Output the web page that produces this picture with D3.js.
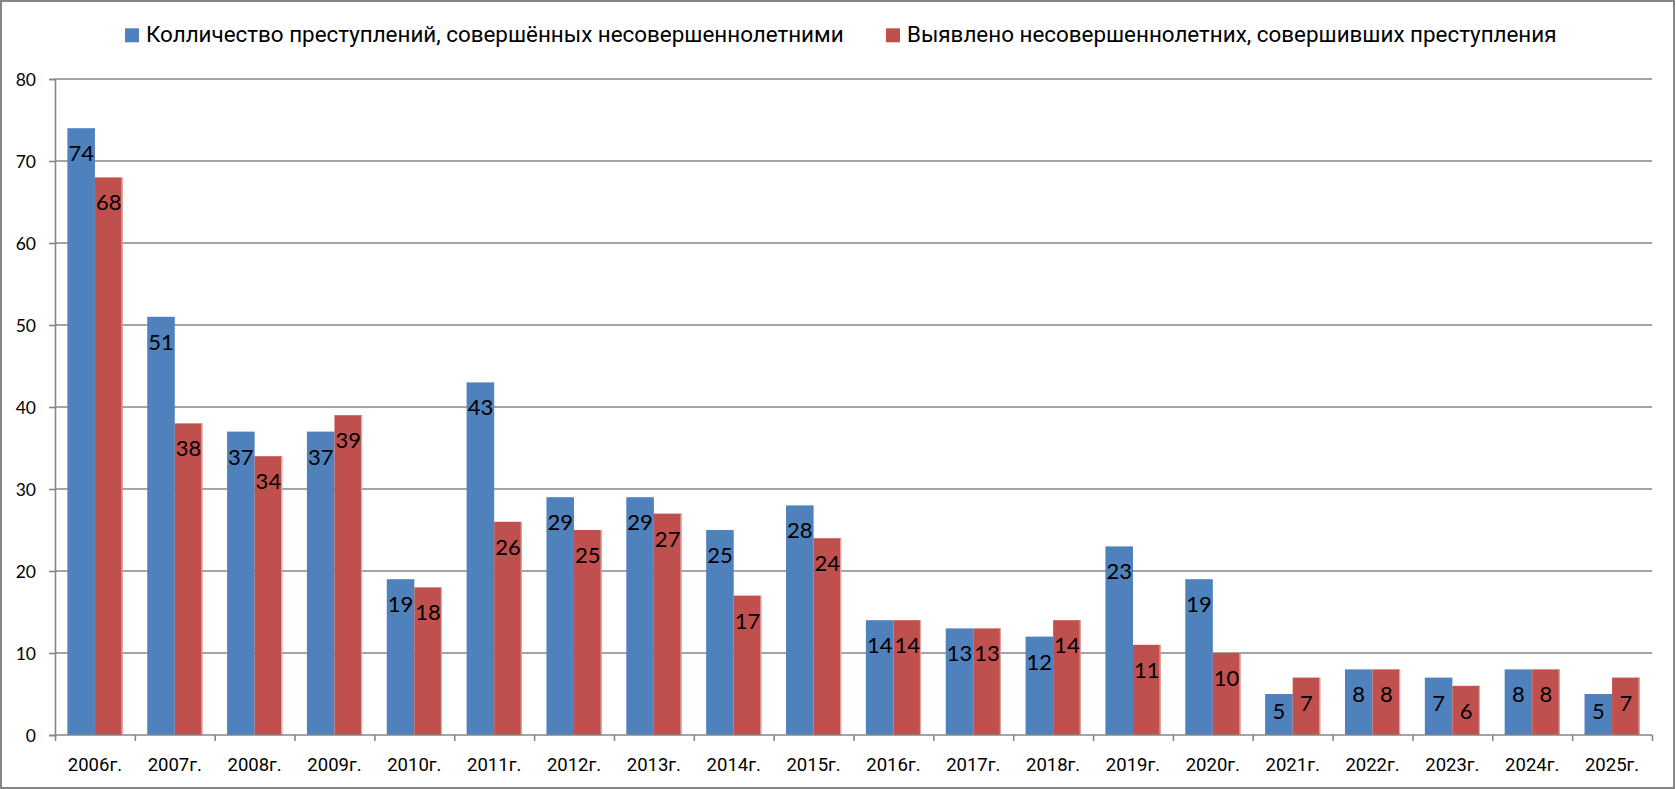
<!DOCTYPE html>
<html><head><meta charset="utf-8">
<script src="https://cdn.jsdelivr.net/npm/d3@7"></script>
<style>
html,body{margin:0;padding:0;background:#fff;}
svg{display:block;}
</style></head>
<body>
<svg id="chart" width="1676" height="789"></svg>
<script>
const categories = ['2006г.','2007г.','2008г.','2009г.','2010г.','2011г.','2012г.','2013г.','2014г.','2015г.','2016г.','2017г.','2018г.','2019г.','2020г.','2021г.','2022г.','2023г.','2024г.','2025г.'];
const crimes     = [74, 51, 37, 37, 19, 43, 29, 29, 25, 28, 14, 13, 12, 23, 19, 5, 8, 7, 8, 5];
const juveniles  = [68, 38, 34, 39, 18, 26, 25, 27, 17, 24, 14, 13, 14, 11, 10, 7, 8, 6, 8, 7];
const seriesNames = ['Колличество преступлений, совершённых несовершеннолетними', 'Выявлено несовершеннолетних, совершивших преступления'];
const seriesColors = ['#4F81BD', '#C0504D'];
const yTicks = [0, 10, 20, 30, 40, 50, 60, 70, 80];

const W = 1676, H = 789;
const plot = {left: 55, right: 1652, top: 79, bottom: 735};
const gray = '#868686';
const numFont = 'Lato, Roboto, sans-serif';
const txtFont = 'Roboto, "Noto Sans", sans-serif';

const svg = d3.select('#chart');

// outer border
svg.append('rect').attr('x', 1).attr('y', 1).attr('width', W - 3).attr('height', H - 2)
  .attr('fill', '#fff').attr('stroke', gray).attr('stroke-width', 2);

const y = d3.scaleLinear().domain([0, 80]).range([plot.bottom, plot.top]);
const x0 = d3.scaleBand().domain(categories).range([plot.left, plot.right]).padding(0);
const bw = x0.bandwidth();
const x1 = d3.scaleBand().domain([0, 1]).range([bw * 0.155, bw * 0.845]).padding(0);
const xi = d3.scaleLinear().domain([0, categories.length]).range([plot.left, plot.right]);

// gridlines
svg.append('g').selectAll('line').data(yTicks.filter(t => t > 0)).join('line')
  .attr('x1', plot.left).attr('x2', plot.right)
  .attr('y1', d => y(d)).attr('y2', d => y(d))
  .attr('stroke', gray).attr('stroke-width', 1.6);

// y axis
const yAxis = svg.append('g').attr('transform', `translate(${plot.left},0)`)
  .call(d3.axisLeft(y).tickValues(yTicks).tickSize(6).tickPadding(13).tickFormat(d3.format('d')));
yAxis.select('.domain').attr('stroke', gray).attr('stroke-width', 1.6);
yAxis.selectAll('.tick line').attr('stroke', gray).attr('stroke-width', 1.6);
yAxis.selectAll('.tick text').attr('font-family', numFont).attr('font-size', 17.5)
  .attr('fill', '#000').attr('dy', null).attr('y', 6.5);

// bars
const data = categories.map((c, i) => ({cat: c, vals: [crimes[i], juveniles[i]]}));
const groups = svg.append('g').selectAll('g').data(data).join('g')
  .attr('transform', d => `translate(${x0(d.cat)},0)`);

groups.selectAll('rect.bar').data(d => d.vals.map((v, k) => ({v, k}))).join('rect')
  .attr('class', 'bar')
  .attr('x', d => x1(d.k)).attr('width', x1.bandwidth())
  .attr('y', d => y(d.v)).attr('height', d => y(0) - y(d.v))
  .attr('fill', d => seriesColors[d.k]);

// light edge on red bars
groups.selectAll('line.edge').data(d => [{v: d.vals[1], k: 1}]).join('line')
  .attr('class', 'edge')
  .attr('x1', d => x1(d.k) + x1.bandwidth() - 0.5).attr('x2', d => x1(d.k) + x1.bandwidth() - 0.5)
  .attr('y1', d => y(d.v)).attr('y2', y(0))
  .attr('stroke', '#E8A3A1').attr('stroke-width', 1.2);

// data labels
groups.selectAll('text.lbl').data(d => d.vals.map((v, k) => ({v, k}))).join('text')
  .attr('class', 'lbl')
  .attr('x', d => x1(d.k) + x1.bandwidth() / 2)
  .attr('y', d => Math.min(y(d.v) + 33, plot.bottom - 16))
  .attr('text-anchor', 'middle')
  .attr('font-family', numFont).attr('font-size', 22).attr('fill', '#000')
  .text(d => d.v);

// x axis baseline + boundary ticks
const xAxis = svg.append('g').attr('transform', `translate(0,${plot.bottom})`)
  .call(d3.axisBottom(xi).tickValues(d3.range(0, categories.length + 1)).tickSize(6).tickFormat(''));
xAxis.select('.domain').attr('stroke', gray).attr('stroke-width', 1.6).attr('d', `M${plot.left},0H${plot.right}`);
xAxis.selectAll('.tick line').attr('stroke', gray).attr('stroke-width', 1.6);

// x labels
const xLab = svg.append('g').attr('transform', `translate(0,${plot.bottom})`)
  .call(d3.axisBottom(x0).tickSize(0).tickPadding(0));
xLab.select('.domain').remove();
xLab.selectAll('.tick text').attr('font-family', txtFont).attr('font-size', 18.5)
  .attr('fill', '#000').attr('dy', null).attr('y', 35.7);

// legend
const legendX = [125, 886];
const leg = svg.append('g').selectAll('g').data(seriesNames).join('g')
  .attr('transform', (d, i) => `translate(${legendX[i]},28.3)`);
leg.append('rect').attr('width', 14).attr('height', 14).attr('fill', (d, i) => seriesColors[i]);
leg.append('text').attr('x', 21).attr('y', 14)
  .attr('font-family', txtFont).attr('font-size', 22.4).attr('fill', '#000')
  .text(d => d);
</script>
</body></html>
